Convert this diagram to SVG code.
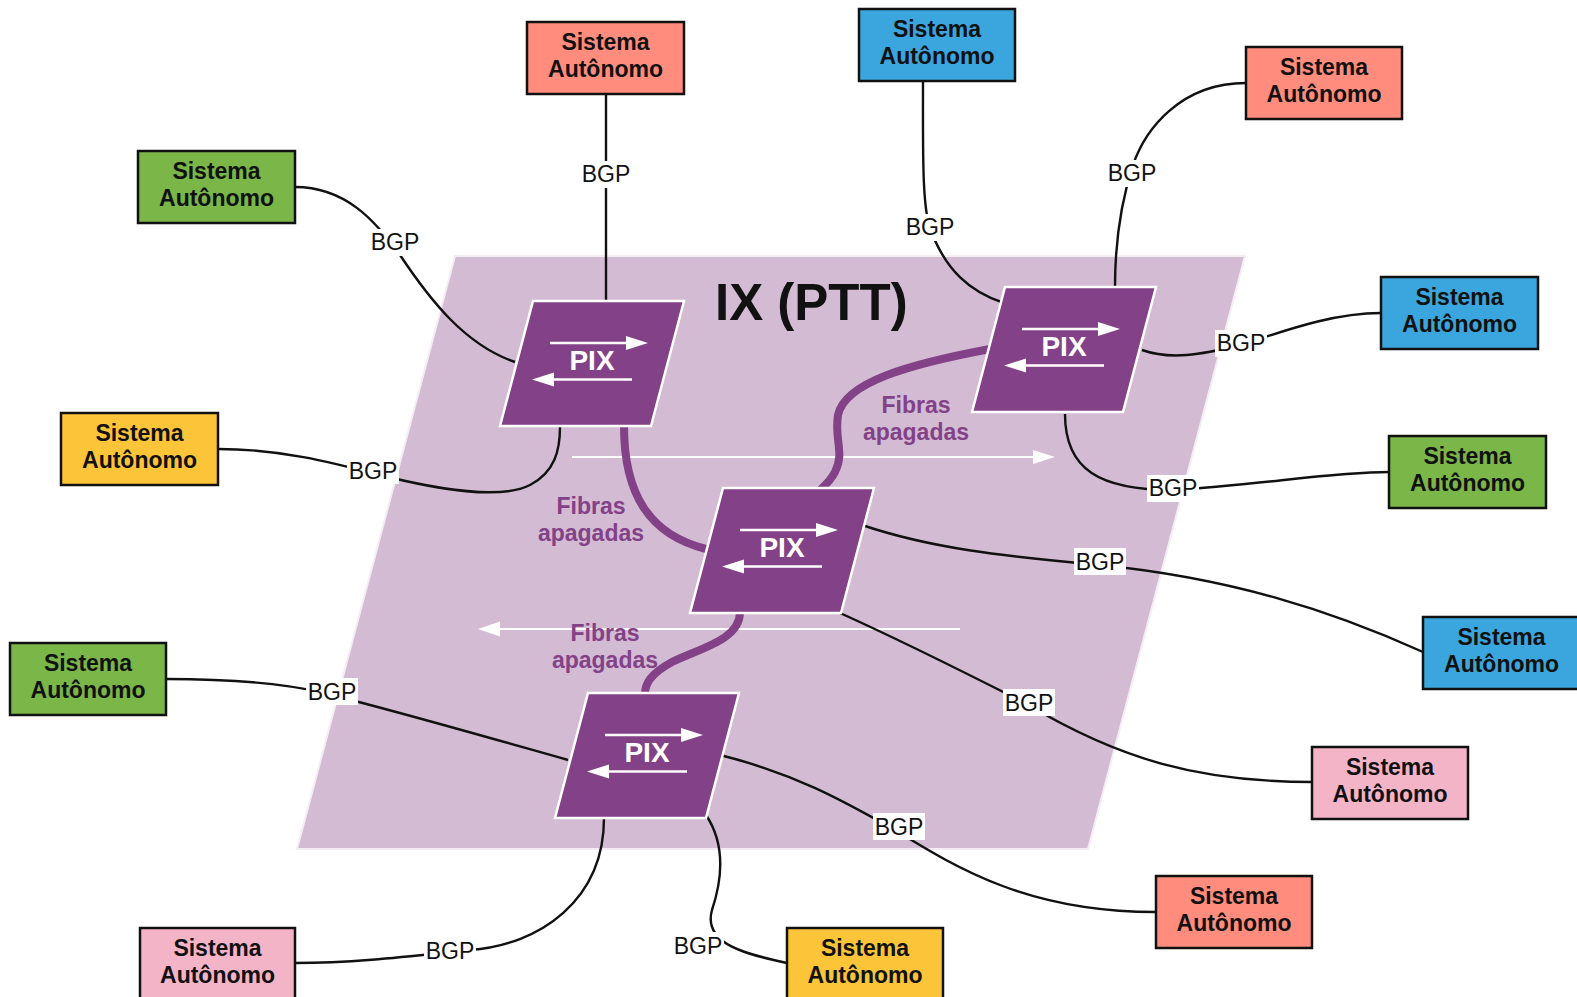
<svg xmlns="http://www.w3.org/2000/svg" width="1577" height="997" viewBox="0 0 1577 997">
<style>
.as rect{stroke:#111;stroke-width:2.5}
.as text{font-family:"Liberation Sans",Arial,sans-serif;font-weight:bold;font-size:23px;fill:#111;text-anchor:middle}
.g{fill:#7AB648}.r{fill:#FF8C7C}.b{fill:#3AA6DD}.y{fill:#FCC438}.p{fill:#F4B4C8}
.con path{fill:none;stroke:#111;stroke-width:2.4}
.lbl rect{fill:#fff}
.lbl text{font-family:"Liberation Sans",Arial,sans-serif;font-size:23px;fill:#111;text-anchor:middle}
.fib{fill:none;stroke:#834187;stroke-width:8;stroke-linecap:round}
.ftxt{font-family:"Liberation Sans",Arial,sans-serif;font-weight:bold;font-size:23px;fill:#834187;text-anchor:middle}
.pixt{font-family:"Liberation Sans",Arial,sans-serif;font-weight:bold;font-size:28px;fill:#fff;text-anchor:middle}
</style>
<defs>
<g id="pix">
<polygon points="0,0 151,0 118,125 -33,125" fill="#834187" stroke="#fff" stroke-width="2.5"/>
<text class="pixt" x="59" y="68.5">PIX</text>
<path d="M17 42H96" stroke="#fff" stroke-width="2.5"/>
<polygon points="93,35 115,42 93,49" fill="#fff"/>
<path d="M99 78.5H19" stroke="#fff" stroke-width="2.5"/>
<polygon points="21,71.5 -1,78.5 21,85.5" fill="#fff"/>
</g>
</defs>
<rect width="1577" height="997" fill="#fff"/>
<g id="ix-area">
<polygon points="455,256 1245,256 1088,849 297,849" fill="#D2BBD3" stroke="#F4EEF4" stroke-width="2"/>
<text x="715" y="320" font-family="Liberation Sans,Arial,sans-serif" font-weight="bold" font-size="51" fill="#111">IX (PTT)</text>
<path d="M572 457H1036" stroke="#fff" stroke-width="2.2"/>
<polygon points="1033,450 1055,457 1033,464" fill="#fff"/>
<path d="M960 629H498" stroke="#fff" stroke-width="2.2"/>
<polygon points="500,621.5 478,629 500,636.5" fill="#fff"/>
<text class="ftxt" x="591" y="514">Fibras</text>
<text class="ftxt" x="591" y="541">apagadas</text>
<text class="ftxt" x="916" y="413">Fibras</text>
<text class="ftxt" x="916" y="440">apagadas</text>
<text class="ftxt" x="605" y="641">Fibras</text>
<text class="ftxt" x="605" y="668">apagadas</text>
</g>
<g id="fibers">
<path class="fib" d="M624 426C624 495 650 535 706 549"/>
<path class="fib" d="M990 349C910 364 845 382 838 415C834 440 845 452 835 472C830 482 822 488 818 492"/>
<path class="fib" d="M740 612C740 640 700 648 672 662C650 674 645 684 645 694"/>
</g>
<g class="con" id="connectors">
<path d="M606 94V301"/>
<path d="M295 187C345 187 375 220 400 255C430 300 465 345 515 362"/>
<path d="M218 449C280 449 330 462 380 475C440 490 500 500 530 485C555 472 560 450 560 427"/>
<path d="M166 679C230 679 280 683 320 692C400 712 490 738 568 760"/>
<path d="M604 818C604 900 540 945 470 950C420 955 360 963 295 963"/>
<path d="M706 815C726 845 722 880 712 910C702 945 750 955 787 963"/>
<path d="M720 755C800 775 850 805 895 830C960 870 1030 912 1156 912"/>
<path d="M840 613C900 640 960 670 1025 703C1120 760 1200 782 1312 782"/>
<path d="M862 525C930 548 1000 556 1100 565C1230 578 1330 610 1423 652"/>
<path d="M1065 414C1065 470 1100 490 1173 490C1260 485 1330 472 1389 472"/>
<path d="M1142 350C1170 360 1200 355 1241 345C1300 325 1340 313 1381 313"/>
<path d="M923 82C923 150 922 205 930 228C945 270 970 292 1004 303"/>
<path d="M1246 83C1180 83 1145 130 1133 165C1120 205 1115 250 1115 287"/>
</g>
<g class="lbl" id="labels">
<rect x="580" y="161" width="52" height="27"/><text x="606" y="182">BGP</text>
<rect x="369" y="229" width="52" height="27"/><text x="395" y="250">BGP</text>
<rect x="347" y="457" width="52" height="27"/><text x="373" y="479">BGP</text>
<rect x="306" y="678" width="52" height="27"/><text x="332" y="700">BGP</text>
<rect x="424" y="937" width="52" height="27"/><text x="450" y="959">BGP</text>
<rect x="672" y="932" width="52" height="27"/><text x="698" y="954">BGP</text>
<rect x="873" y="813" width="52" height="27"/><text x="899" y="835">BGP</text>
<rect x="1003" y="689" width="52" height="27"/><text x="1029" y="711">BGP</text>
<rect x="1074" y="548" width="52" height="27"/><text x="1100" y="570">BGP</text>
<rect x="1147" y="475" width="52" height="27"/><text x="1173" y="496">BGP</text>
<rect x="1215" y="330" width="52" height="27"/><text x="1241" y="351">BGP</text>
<rect x="904" y="214" width="52" height="27"/><text x="930" y="235">BGP</text>
<rect x="1106" y="160" width="52" height="27"/><text x="1132" y="181">BGP</text>
</g>
<g id="pix1"><use href="#pix" transform="translate(533,301)"/></g>
<g id="pix2"><use href="#pix" transform="translate(1005,287)"/></g>
<g id="pix3"><use href="#pix" transform="translate(723,488)"/></g>
<g id="pix4"><use href="#pix" transform="translate(588,693)"/></g>
<g id="as1" class="as"><rect class="r" x="527" y="22" width="157" height="72"/><text x="605.5" y="49.5">Sistema</text><text x="605.5" y="77">Autônomo</text></g>
<g id="as2" class="as"><rect class="g" x="138" y="151" width="157" height="72"/><text x="216.5" y="178.5">Sistema</text><text x="216.5" y="206">Autônomo</text></g>
<g id="as3" class="as"><rect class="b" x="859" y="9" width="156" height="72"/><text x="937" y="36.5">Sistema</text><text x="937" y="64">Autônomo</text></g>
<g id="as4" class="as"><rect class="r" x="1246" y="47" width="156" height="72"/><text x="1324" y="74.5">Sistema</text><text x="1324" y="102">Autônomo</text></g>
<g id="as5" class="as"><rect class="b" x="1381" y="277" width="157" height="72"/><text x="1459.5" y="304.5">Sistema</text><text x="1459.5" y="332">Autônomo</text></g>
<g id="as6" class="as"><rect class="g" x="1389" y="436" width="157" height="72"/><text x="1467.5" y="463.5">Sistema</text><text x="1467.5" y="491">Autônomo</text></g>
<g id="as7" class="as"><rect class="b" x="1423" y="617" width="157" height="72"/><text x="1501.5" y="644.5">Sistema</text><text x="1501.5" y="672">Autônomo</text></g>
<g id="as8" class="as"><rect class="p" x="1312" y="747" width="156" height="72"/><text x="1390" y="774.5">Sistema</text><text x="1390" y="802">Autônomo</text></g>
<g id="as9" class="as"><rect class="r" x="1156" y="876" width="156" height="72"/><text x="1234" y="903.5">Sistema</text><text x="1234" y="931">Autônomo</text></g>
<g id="as10" class="as"><rect class="y" x="61" y="413" width="157" height="72"/><text x="139.5" y="440.5">Sistema</text><text x="139.5" y="468">Autônomo</text></g>
<g id="as11" class="as"><rect class="g" x="10" y="643" width="156" height="72"/><text x="88" y="670.5">Sistema</text><text x="88" y="698">Autônomo</text></g>
<g id="as12" class="as"><rect class="p" x="140" y="928" width="155" height="72"/><text x="217.5" y="955.5">Sistema</text><text x="217.5" y="983">Autônomo</text></g>
<g id="as13" class="as"><rect class="y" x="787" y="928" width="156" height="72"/><text x="865" y="955.5">Sistema</text><text x="865" y="983">Autônomo</text></g>
</svg>
